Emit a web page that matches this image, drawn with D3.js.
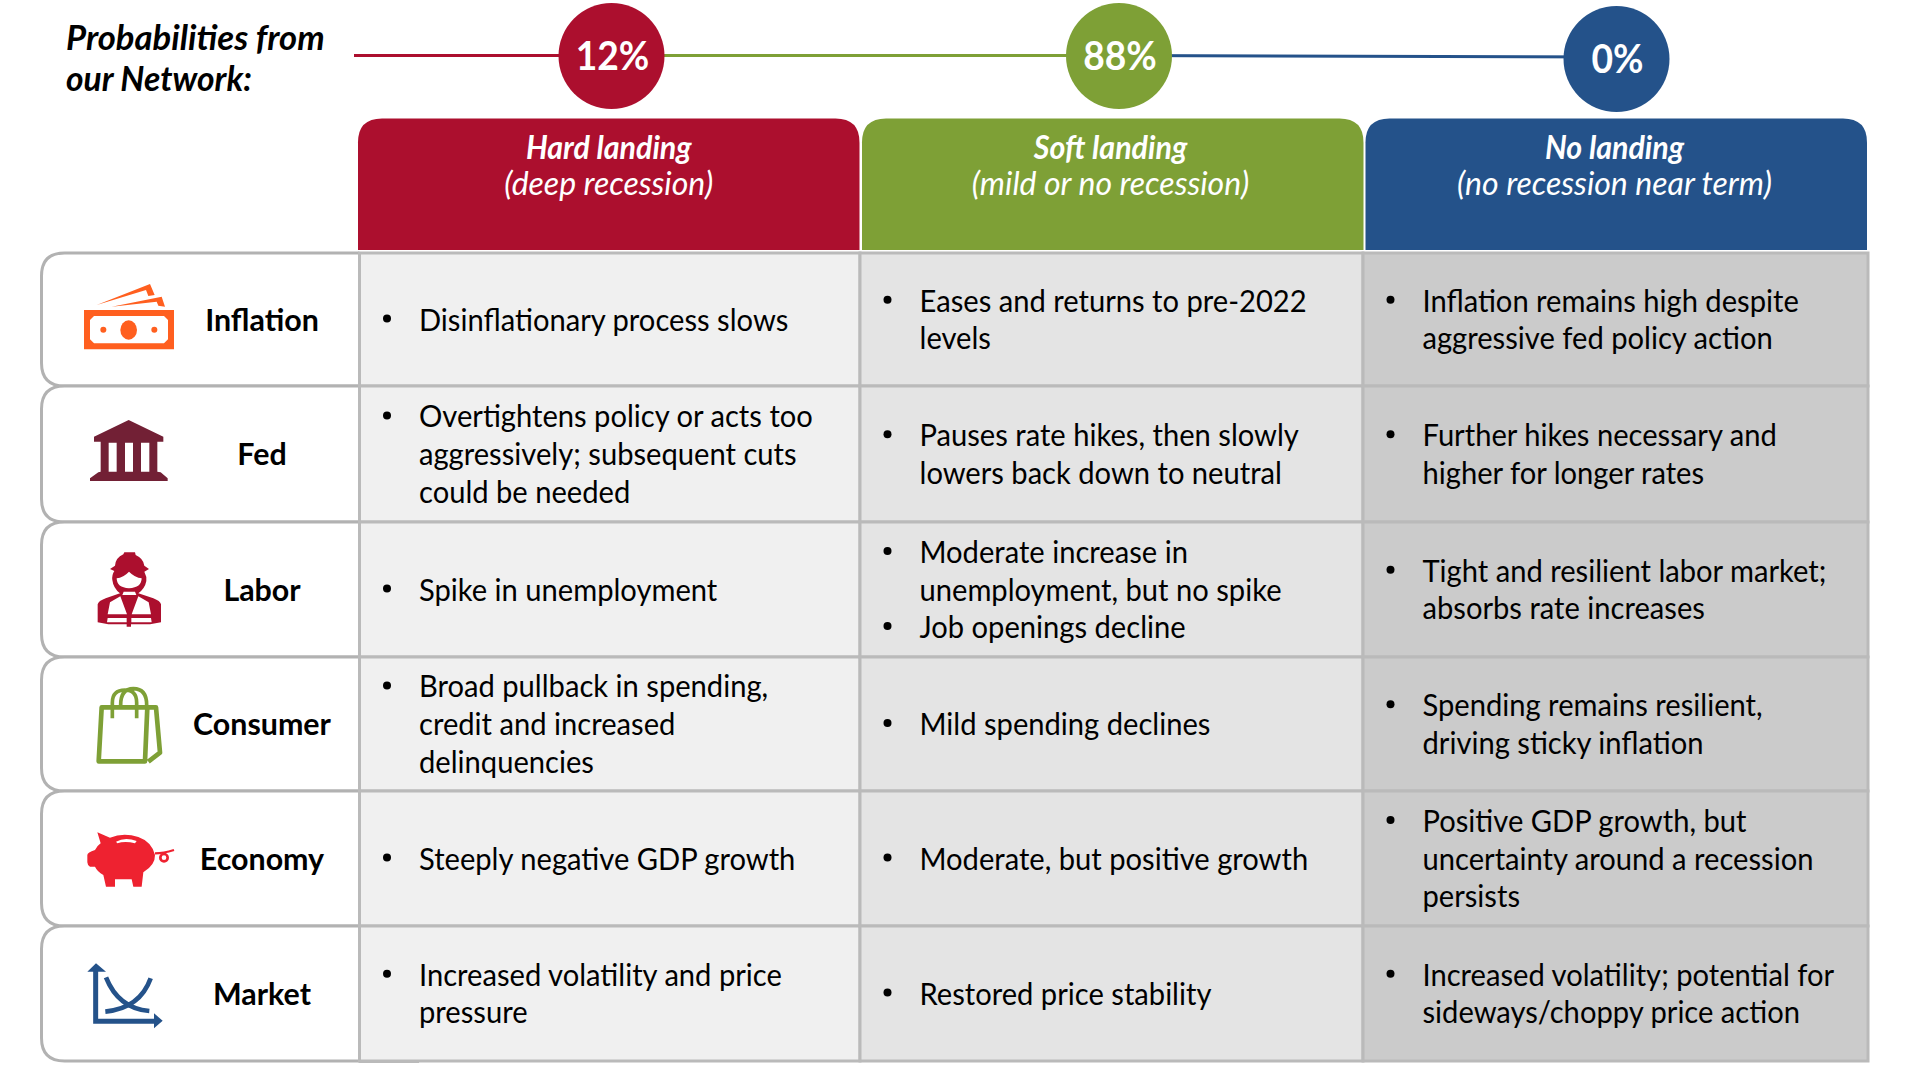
<!DOCTYPE html>
<html>
<head>
<meta charset="utf-8">
<script src="https://cdn.jsdelivr.net/npm/d3@7"></script>
<style>
html, body { margin: 0; padding: 0; background: #fff; }
svg { display: block; }
text { font-family: Lato, "Open Sans", sans-serif; }
</style>
</head>
<body>
<svg id="chart" width="1916" height="1069"></svg>
<script>
const scenarios = ["Hard landing", "Soft landing", "No landing"];
const scenarioNotes = ["(deep recession)", "(mild or no recession)", "(no recession near term)"];
const probabilities = [12, 88, 0];
const factors = ["Inflation", "Fed", "Labor", "Consumer", "Economy", "Market"];

// each cell is a list of bullets, each bullet a list of wrapped lines
const hardLanding = [
    [["Disinflationary process slows"]],
    [["Overtightens policy or acts too", "aggressively; subsequent cuts", "could be needed"]],
    [["Spike in unemployment"]],
    [["Broad pullback in spending,", "credit and increased", "delinquencies"]],
    [["Steeply negative GDP growth"]],
    [["Increased volatility and price", "pressure"]]
];
const softLanding = [
    [["Eases and returns to pre-2022", "levels"]],
    [["Pauses rate hikes, then slowly", "lowers back down to neutral"]],
    [["Moderate increase in", "unemployment, but no spike"], ["Job openings decline"]],
    [["Mild spending declines"]],
    [["Moderate, but positive growth"]],
    [["Restored price stability"]]
];
const noLanding = [
    [["Inflation remains high despite", "aggressive fed policy action"]],
    [["Further hikes necessary and", "higher for longer rates"]],
    [["Tight and resilient labor market;", "absorbs rate increases"]],
    [["Spending remains resilient,", "driving sticky inflation"]],
    [["Positive GDP growth, but", "uncertainty around a recession", "persists"]],
    [["Increased volatility; potential for", "sideways/choppy price action"]]
];
const cellsByScenario = [hardLanding, softLanding, noLanding];

const red = "#ac0f2e", green = "#7ea036", blue = "#24528a", rule = "#bababa", ruleDark = "#b2b2b2";
const headColor = d3.scaleOrdinal().domain(scenarios).range([red, green, blue]);
const cellColor = d3.scaleOrdinal().domain(scenarios).range(["#f0f0f0", "#e4e4e4", "#cbcbcb"]);
// the source grid is not quite even, so edges go through ordinal scales
const x = d3.scaleOrdinal().domain(scenarios.concat("end")).range([359.5, 860, 1363, 1868]);
const y = d3.scaleOrdinal().domain(factors.concat("end")).range([253, 386, 522, 657, 791, 926, 1061]);
const tabLeft = d3.scaleOrdinal().domain(scenarios).range([358, 862, 1365.5]);
const tabRight = d3.scaleOrdinal().domain(scenarios).range([859.5, 1363.5, 1867]);
const nextOf = (list, v) => list[list.indexOf(v) + 1] || "end";
const colWidth = s => x(nextOf(scenarios, s)) - x(s);
const rowHeight = f => y(nextOf(factors, f)) - y(f);
const bubbleX = d3.scaleOrdinal().domain(scenarios).range([611.5, 1119, 1616.5]);
const bubbleY = d3.scaleOrdinal().domain(scenarios).range([56, 56, 59]);

const svg = d3.select("#chart");
const lineStep = 37.6;

function label(parent, str, px, py, size, opts) {
    const o = opts || {};
    return parent.append("text")
        .attr("transform", `translate(${px},${py}) scale(${o.sx || 0.94},1)`)
        .attr("text-anchor", o.anchor || "start")
        .attr("font-size", size)
        .attr("font-weight", o.weight || 400)
        .attr("font-style", o.style || "normal")
        .attr("fill", o.fill || "#000")
        .text(str);
}

// title
label(svg, "Probabilities from", 66, 50, 35, {weight: 700, style: "italic", sx: 0.99});
label(svg, "our Network:", 66, 91, 35, {weight: 700, style: "italic", sx: 0.96});

// connector lines behind the bubbles
const connectors = svg.append("g");
connectors.append("line").attr("x1", 354).attr("x2", bubbleX(scenarios[0]))
    .attr("y1", 55.5).attr("y2", 55.5).attr("stroke", red).attr("stroke-width", 3);
connectors.append("line").attr("x1", bubbleX(scenarios[0])).attr("x2", bubbleX(scenarios[1]))
    .attr("y1", 55.5).attr("y2", 55.5).attr("stroke", green).attr("stroke-width", 3);
connectors.append("line").attr("x1", bubbleX(scenarios[1])).attr("x2", bubbleX(scenarios[2]))
    .attr("y1", 55.5).attr("y2", 57).attr("stroke", blue).attr("stroke-width", 3);

// probability bubbles
scenarios.forEach((s, i) => {
    svg.append("circle").attr("cx", bubbleX(s)).attr("cy", bubbleY(s)).attr("r", 53).attr("fill", headColor(s));
    label(svg, probabilities[i] + "%", bubbleX(s) + 1, bubbleY(s) + 14, 40, {anchor: "middle", weight: 700, fill: "#fff", sx: 0.93});
});

// header tabs
scenarios.forEach((s, i) => {
    const x0 = tabLeft(s), x1 = tabRight(s), top = 118.5, bottom = 250, r = 24;
    svg.append("path")
        .attr("d", `M${x0},${bottom}V${top + r}Q${x0},${top} ${x0 + r},${top}H${x1 - r}Q${x1},${top} ${x1},${top + r}V${bottom}Z`)
        .attr("fill", headColor(s));
    const mid = x(s) + colWidth(s) / 2 - 1;
    label(svg, s, mid, 159, 32, {anchor: "middle", weight: 700, style: "italic", fill: "#fff", sx: 0.95});
    label(svg, scenarioNotes[i], mid, 195, 32, {anchor: "middle", style: "italic", fill: "#fff", sx: 1.0});
});

// factor label boxes
const labelLeft = 41.5;
factors.forEach(f => {
    const top = y(f), bottom = top + rowHeight(f), r = 23, right = x(scenarios[0]);
    svg.append("path")
        .attr("d", `M${right},${top}H${labelLeft + r}Q${labelLeft},${top} ${labelLeft},${top + r}V${bottom - r}Q${labelLeft},${bottom} ${labelLeft + r},${bottom}H${right}`)
        .attr("fill", "#fff").attr("stroke", ruleDark).attr("stroke-width", 3);
    label(svg, f, 262, top + rowHeight(f) / 2 + 11, 31, {anchor: "middle", weight: 700, sx: 0.98});
});
svg.append("line").attr("x1", 359).attr("x2", 419).attr("y1", 1062).attr("y2", 1062)
    .attr("stroke", rule).attr("stroke-width", 2);

// table cells
scenarios.forEach((s, c) => {
    factors.forEach((f, r) => {
        svg.append("rect").attr("x", x(s)).attr("y", y(f))
            .attr("width", colWidth(s)).attr("height", rowHeight(f))
            .attr("fill", cellColor(s)).attr("stroke", rule).attr("stroke-width", 3);
        const bullets = cellsByScenario[c][r];
        const count = d3.sum(bullets, b => b.length);
        const midY = y(f) + rowHeight(f) / 2;
        let n = 0;
        bullets.forEach(b => {
            b.forEach((line, k) => {
                const base = midY + (n - (count - 1) / 2) * lineStep + 11;
                if (k === 0) svg.append("circle").attr("cx", x(s) + 27.5).attr("cy", base - 12).attr("r", 4).attr("fill", "#000");
                label(svg, line, x(s) + 59.5, base, 31);
                n++;
            });
        });
    });
});

// icons are traced in a 3x working space, hence the 1/3 scale
const iconSpace = d3.scaleOrdinal().domain(factors).range([39, 438, 846, 21, 423, 828]);
const icons = {
    Inflation(g) {
        const c = "#ff5f1f";
        g.append("path").attr("fill", c).attr("fill-rule", "evenodd")
            .attr("d", "M162,210H432V328H162Z M192,228L180,240V298L192,310H402L414,298V240L402,228Z");
        g.append("ellipse").attr("cx", 296).attr("cy", 270).attr("rx", 25).attr("ry", 29).attr("fill", c);
        g.append("circle").attr("cx", 220).attr("cy", 269).attr("r", 9).attr("fill", c);
        g.append("circle").attr("cx", 373).attr("cy", 269).attr("r", 9).attr("fill", c);
        g.append("path").attr("fill", c).attr("d", "M200,195L360,132L374,165L355,168L348,150Z M245,200L395,170L405,200L385,197L380,185Z");
    },
    Fed(g) {
        g.append("path").attr("fill", "#722035").attr("fill-rule", "evenodd")
            .attr("d", "M296,540L400,590V605H382V695L392,697L413,715V723H180V715L205,697L212,695V605H192V590Z M236,608V695H260V608Z M285,608V695H309V608Z M333,608V695H358V608Z");
    },
    Labor(g) {
        const t = g.append("g").attr("transform", "translate(165,915)");
        t.append("path").attr("fill", red)
            .attr("d", "M38,178Q40,168 62,160L105,145Q85,130 82,105Q80,90 88,78L75,72L90,62Q92,38 115,28L118,22H150L152,30Q175,40 178,62L192,72L178,80Q186,95 184,108Q180,130 160,145L205,160Q226,168 228,178V232L195,238H138V245H125V238H70L38,232Z");
        t.append("path").attr("fill", "#fff")
            .attr("d", "M95,100Q115,98 132,80Q150,98 170,100Q170,128 132,130Q95,128 95,100Z");
        t.append("path").attr("fill", "#fff")
            .attr("d", "M116,140H150L154,150H112Z M68,208L75,172L106,154L126,208Z M198,208L191,172L160,154L140,208Z M68,219H125V232H66Z M139,219H198L200,232H139Z");
    },
    Consumer(g) {
        g.append("path").attr("fill", "none").attr("stroke", green).attr("stroke-width", 14).attr("stroke-linejoin", "round")
            .attr("d", "M215,172H352L345,334H206Z M352,172H378L390,308L355,335");
        g.append("path").attr("fill", "none").attr("stroke", green).attr("stroke-width", 11)
            .attr("d", "M247,205V158Q247,120 285,120Q320,120 320,158V205 M272,165Q272,116 310,116Q350,116 350,165");
    },
    Economy(g) {
        const c = "#ee2230";
        const t = g.append("g").attr("transform", "translate(150,525)");
        t.append("path").attr("fill", c)
            .attr("d", "M52,22L90,38Q130,22 175,36Q215,50 225,90Q226,120 190,142L185,185H160L155,163H105L105,185H78L70,150Q52,140 45,125H30Q22,120 22,112V90Q22,82 45,75Q52,62 62,55Z");
        t.append("path").attr("fill", "none").attr("stroke", c).attr("stroke-width", 7)
            .attr("d", "M225,85Q250,85 282,75");
        t.append("circle").attr("cx", 252).attr("cy", 98).attr("r", 11).attr("fill", "none").attr("stroke", c).attr("stroke-width", 8);
        t.append("path").attr("fill", "#fff").attr("d", "M108,50Q135,35 170,48L165,55Q135,47 112,55Z");
    },
    Market(g) {
        g.append("path").attr("fill", "none").attr("stroke", blue).attr("stroke-width", 15)
            .attr("d", "M197,960V1114H378");
        g.append("path").attr("fill", blue).attr("d", "M172,965L198,940L228,965Z M372,1090L398,1112L372,1135Z");
        g.append("path").attr("fill", "none").attr("stroke", blue).attr("stroke-width", 14)
            .attr("d", "M228,982Q265,1075 358,1083 M226,1085Q330,1075 362,985");
    }
};
factors.forEach(f => {
    const g = svg.append("g")
        .attr("transform", `translate(30,${y(f)}) scale(${1 / 3}) translate(0,${-iconSpace(f)})`);
    icons[f](g);
});
</script>
</body>
</html>
